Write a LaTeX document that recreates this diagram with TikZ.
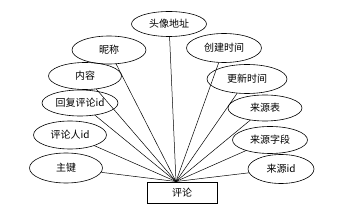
\documentclass[tikz,border=0pt]{standalone}
\usepackage{fontspec}
\setmainfont{Liberation Sans}
\newfontfamily\cjk{Noto Sans CJK SC}
\usetikzlibrary{shapes.geometric}
\begin{document}
\begin{tikzpicture}[x=1pt,y=-1pt,
  attr/.style={draw,ellipse,line width=0.6pt,inner sep=0pt,minimum width=#1,font=\cjk\fontsize{10}{12}\selectfont},
  attr/.default=74pt,
  ent/.style={draw,rectangle,line width=0.6pt,inner sep=0pt,minimum width=70pt,minimum height=21pt,font=\cjk\fontsize{10}{12}\selectfont},
  link/.style={line width=0.5pt}]
\useasboundingbox (0,0) rectangle (361,208);
\node[ent] (e) at (182,192.5) {评论};
\coordinate (c) at (176,181.5);
\node[attr=75pt,minimum height=25pt] (a1) at (169,24) {头像地址};
\node[attr=74pt,minimum height=28pt] (a2) at (109,50) {昵称};
\node[attr=73pt,minimum height=27pt] (a3) at (85,76) {内容};
\node[attr=76pt,minimum height=26pt] (a4) at (80,103) {回复评论id};
\node[attr=73pt,minimum height=28pt] (a5) at (70,135) {评论人id};
\node[attr=73pt,minimum height=30pt] (a6) at (66,168) {主键};
\node[attr=75pt,minimum height=29pt] (a7) at (224,48) {创建时间};
\node[attr=80pt,minimum height=29pt] (a8) at (247,79) {更新时间};
\node[attr=74pt,minimum height=26pt] (a9) at (265,108) {来源表};
\node[attr=75pt,minimum height=27pt] (a10) at (270,140) {来源字段};
\node[attr=66pt,minimum height=29pt] (a11) at (281,169) {来源id};
\foreach \n in {a1,a2,a3,a4,a5,a6,a7,a8,a9,a10,a11}
  \draw[link] (\n) -- (c);
\end{tikzpicture}
\end{document}
